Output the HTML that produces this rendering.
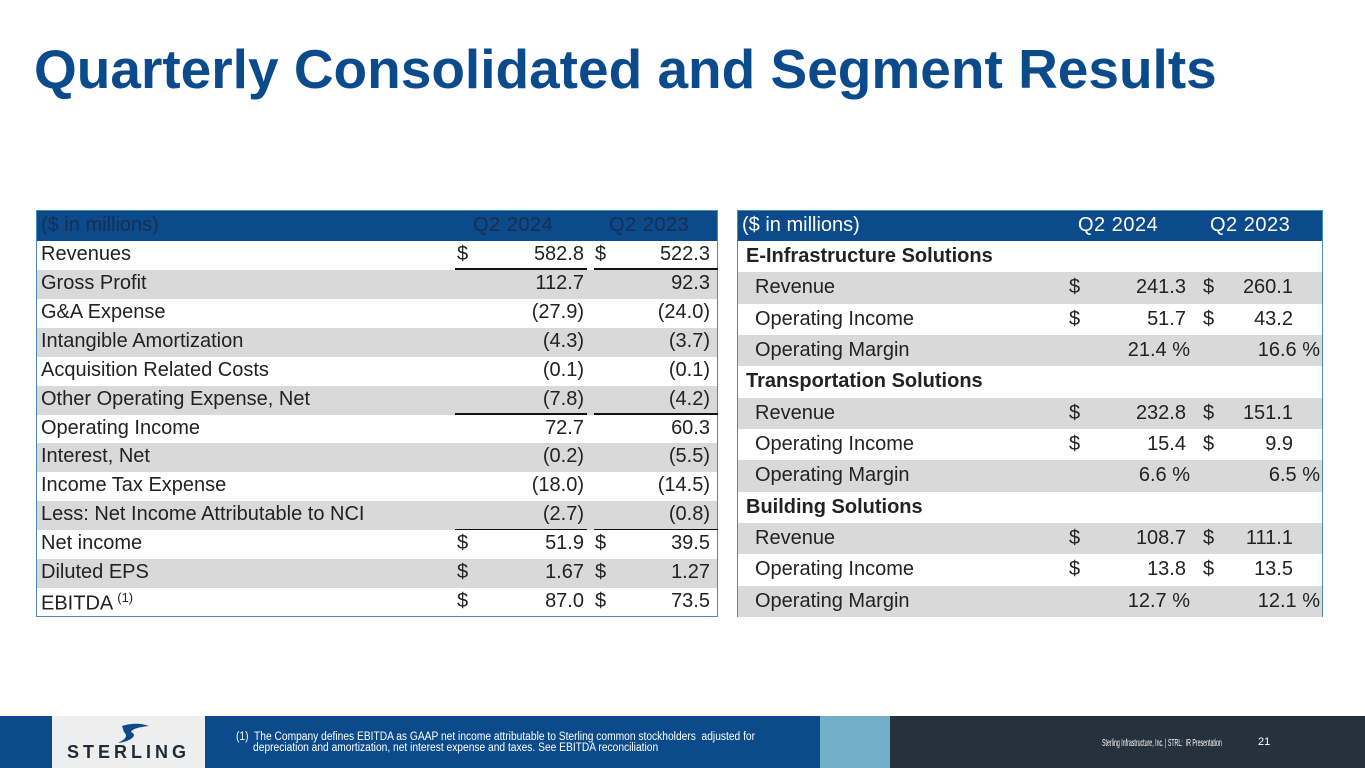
<!DOCTYPE html>
<html><head><meta charset="utf-8"><style>
body{margin:0;width:1365px;height:768px;position:relative;background:#fff;font-family:"Liberation Sans",Arial,sans-serif;overflow:hidden}
.t{position:absolute;white-space:nowrap}
h1{position:absolute;left:34px;top:37px;margin:0;font-size:55px;font-weight:bold;color:#0b4a8b;letter-spacing:0px}
.tbl{position:absolute;border:1px solid #4a8ac0;box-sizing:border-box}
.hd{position:absolute;left:0;right:0;top:0;background:#0b4a8b}
.row{position:absolute;left:0;right:0;font-size:20px;color:#222}
.g{background:#d9d9d9}
.row span{position:absolute;white-space:nowrap}
.r{text-align:right}
.ul{position:absolute;height:1.5px;background:#111}
.nar{transform-origin:left top}
</style></head><body>
<h1>Quarterly Consolidated and Segment Results</h1>

<div class="tbl" id="lt" style="left:36px;top:210px;width:682px;height:407px"></div>
<div class="tbl" id="rt" style="left:737px;top:210px;width:586px;height:407px"></div>

<div style="position:absolute;left:0;top:716px;width:1365px;height:52px;background:#0b4a8b">
 <div style="position:absolute;left:820px;top:0;width:70px;height:52px;background:#71afc9"></div>
 <div style="position:absolute;left:890px;top:0;width:475px;height:52px;background:#25313d"></div>
 <div style="position:absolute;left:52px;top:0;width:153px;height:52px;background:#eeeeee">
  <svg width="153" height="52" style="position:absolute;left:0;top:0"><path d="M70 10 C82 6 92 8 97 10 C87 11 80 13 79 16 C86 19 80 25 66 27 C74 23 76 20 72 16 Z" fill="#0b4a8b"/></svg>
  <div class="t" style="left:15px;top:26px;font-size:18px;font-weight:bold;color:#1f2a33;letter-spacing:4px">STERLING</div>
 </div>
 <div class="t nar" style="left:236px;top:16px;font-size:11.5px;color:#fff;line-height:11px;transform:scaleX(0.89)">(1)&nbsp; The Company defines EBITDA as GAAP net income attributable to Sterling common stockholders&nbsp; adjusted for<br>&nbsp;&nbsp;&nbsp;&nbsp;&nbsp;&nbsp;depreciation and amortization, net interest expense and taxes. See EBITDA reconciliation</div>
 <div class="t nar" style="left:1102px;top:21px;font-size:10.5px;color:#fff;transform:scaleX(0.5)">Sterling Infrastructure, Inc. | STRL:&nbsp; IR Presentation</div>
 <div class="t" style="left:1258px;top:20px;font-size:11px;color:#fff">21</div>
</div>

<script>
const leftLabels=["Revenues","Gross Profit","G&A Expense","Intangible Amortization","Acquisition Related Costs","Other Operating Expense, Net","Operating Income","Interest, Net","Income Tax Expense","Less: Net Income Attributable to NCI","Net income","Diluted EPS"," EBITDA"];
const leftQ2024=["582.8","112.7","(27.9)","(4.3)","(0.1)","(7.8)","72.7","(0.2)","(18.0)","(2.7)","51.9","1.67","87.0"];
const leftQ2023=["522.3","92.3","(24.0)","(3.7)","(0.1)","(4.2)","60.3","(5.5)","(14.5)","(0.8)","39.5","1.27","73.5"];
const leftDollar=[1,0,0,0,0,0,0,0,0,0,1,1,1];
const leftUnder=[1,0,0,0,0,1,0,0,0,1,0,0,0];

const rightLabels=["E-Infrastructure Solutions","Revenue","Operating Income","Operating Margin","Transportation Solutions","Revenue","Operating Income","Operating Margin","Building Solutions","Revenue","Operating Income","Operating Margin"];
const rightQ2024=["","241.3","51.7","21.4 %","","232.8","15.4","6.6 %","","108.7","13.8","12.7 %"];
const rightQ2023=["","260.1","43.2","16.6 %","","151.1","9.9","6.5 %","","111.1","13.5","12.1 %"];
const rightType=["h","d","d","p","h","d","d","p","h","d","d","p"];

function mk(parent,tag,cls,name,style,text){const e=document.createElement(tag);if(cls)e.className=cls;


if(style)e.style.cssText=style;if(text!==undefined)e.textContent=text;parent.appendChild(e);return e;}

const lt=document.getElementById('lt');
const lh=mk(lt,'div','hd','table-header','height:30px');
mk(lh,'div','t','header-label','left:4px;top:3px;font-size:20px;color:#1b2e52','($ in millions)');
mk(lh,'div','t','header-q2-2024','left:436px;top:3px;font-size:20px;color:#1b2e52;letter-spacing:0.5px','Q2 2024');
mk(lh,'div','t','header-q2-2023','left:572px;top:3px;font-size:20px;color:#1b2e52;letter-spacing:0.5px','Q2 2023');
const lrh=(407-31)/leftLabels.length;
leftLabels.forEach((l,i)=>{
 const r=mk(lt,'div','row'+(i%2?' g':''),'row-'+i,`top:${30+i*lrh}px;height:${lrh}px`);
 const s=mk(r,'span','','row-label',`left:4px;top:2px`,l);
 if(i===12){mk(s,'sup','','footnote-marker','font-size:13px;margin-left:4px','(1)');}
 if(leftDollar[i]){mk(r,'span','','dollar-sign-2024','left:420px;top:2px','$');mk(r,'span','','dollar-sign-2023','left:558px;top:2px','$');}
 mk(r,'span','r','value-q2-2024',`right:${681-548}px;top:2px`,leftQ2024[i]);
 mk(r,'span','r','value-q2-2023',`right:7px;top:2px`,leftQ2023[i]);
 if(leftUnder[i]){mk(r,'div','ul','underline-2024',`left:418px;width:132px;bottom:0`);mk(r,'div','ul','underline-2023',`left:557px;width:124px;bottom:0`);}
});

const rt=document.getElementById('rt');
const rh=mk(rt,'div','hd','table-header','height:30px');
mk(rh,'div','t','header-label','left:4px;top:3px;font-size:20px;color:#fff','($ in millions)');
mk(rh,'div','t','header-q2-2024','left:340px;top:3px;font-size:20px;color:#fff;letter-spacing:0.5px','Q2 2024');
mk(rh,'div','t','header-q2-2023','left:472px;top:3px;font-size:20px;color:#fff;letter-spacing:0.5px','Q2 2023');
const rrh=(407-31)/rightLabels.length;
rightLabels.forEach((l,i)=>{
 const r=mk(rt,'div','row'+(i%4?(i%2?' g':''):''),'row-'+i,`top:${30+i*rrh}px;height:${rrh}px`);
 const t=rightType[i];
 mk(r,'span','','row-label',`left:${t==='h'?8:17}px;top:4px;${t==='h'?'font-weight:bold':''}`,l);
 if(t==='d'){mk(r,'span','','dollar-sign-2024','left:331px;top:4px','$');mk(r,'span','','dollar-sign-2023','left:465px;top:4px','$');
  mk(r,'span','r','value-q2-2024','right:136px;top:4px',rightQ2024[i]);
  mk(r,'span','r','value-q2-2023','right:29px;top:4px',rightQ2023[i]);}
 if(t==='p'){mk(r,'span','r','value-q2-2024','right:132px;top:4px',rightQ2024[i]);
  mk(r,'span','r','value-q2-2023','right:2px;top:4px',rightQ2023[i]);}
});
</script>
</body></html>
